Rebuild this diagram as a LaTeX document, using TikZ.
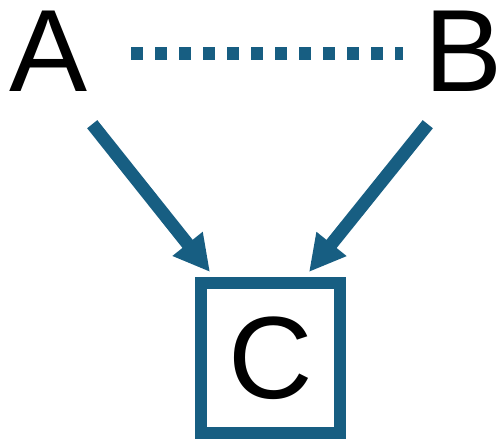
\documentclass[tikz,border=0pt]{standalone}
\usepackage{fontspec}
\setmainfont{Liberation Sans}
\usetikzlibrary{arrows.meta}
\definecolor{linkblue}{HTML}{175E82}

\begin{document}
\begin{tikzpicture}[x=1pt,y=1pt,>=Latex,
  letter/.style={inner sep=0pt,font=\fontsize{117}{117}\selectfont},
  link/.style={linkblue,line width=13pt,-{Triangle[length=36pt,width=36pt]}},
  pair/.style={linkblue,line width=13pt,dash pattern=on 12pt off 12pt}]
  \useasboundingbox (0,0) rectangle (498,440);

  \node[letter,anchor=base] (A) at (48.5,348) {A};
  \node[letter,anchor=base] (B) at (464,348) {B};
  \node[letter,draw=linkblue,line width=12pt,minimum width=139pt,minimum height=150pt] (C) at (270.5,82) {C};

  % dotted link between the two causes
  \draw[pair,shorten <=43.5pt,shorten >=22pt] ([yshift=-1.5pt]A.east) -- ([yshift=-1.5pt]B.west);
  % arrows into the box
  \draw[link] ([shift={(4.5,-32)}]A.south east) -- ([shift={(-60.5,5)}]C.north);
  \draw[link] ([shift={(3,-32)}]B.south west) -- ([shift={(38.5,5)}]C.north);
\end{tikzpicture}
\end{document}
